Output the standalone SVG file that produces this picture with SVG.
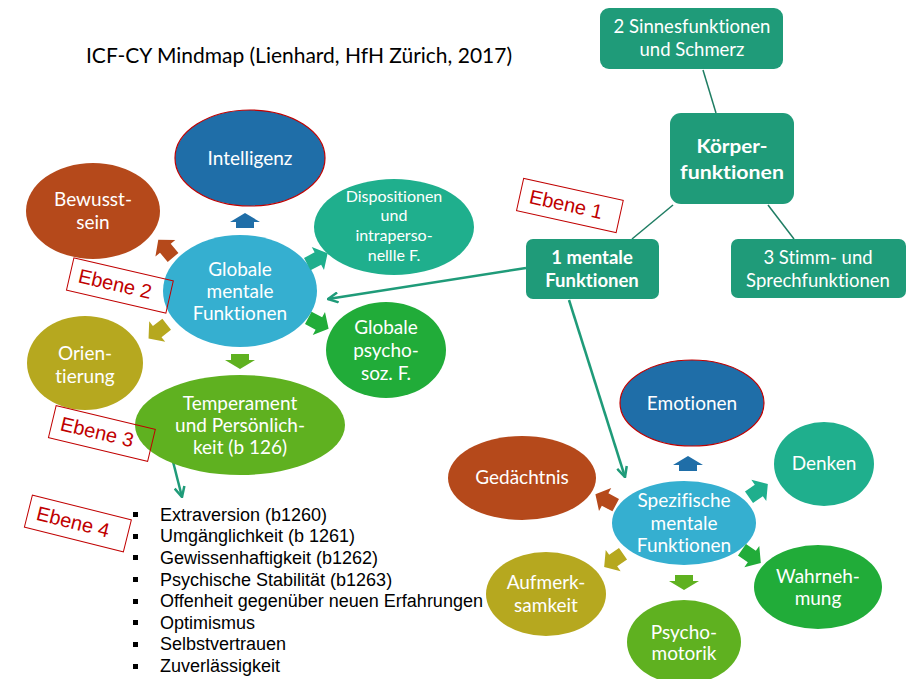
<svg xmlns="http://www.w3.org/2000/svg" xmlns:xlink="http://www.w3.org/1999/xlink" width="910" height="679" viewBox="0 0 910 679">
<defs>
<style>
text{font-variant-ligatures:none;font-feature-settings:"liga" 0,"clig" 0}
.t{font-family:Lato,"Open Sans",sans-serif;fill:#fff;text-anchor:middle;font-size:19px}
.s16{font-size:16px}
.bx{fill:#1f9b79}
.bt{font-family:Lato,"Open Sans",sans-serif;fill:#fff;text-anchor:middle;font-size:18.5px}
.bb{font-weight:bold}
.blue{fill:#1f6ea8;stroke:#c00000;stroke-width:1.2}
.brown{fill:#b5491b}
.teal{fill:#1faf8d}
.lb{fill:#35afd0}
.green{fill:#21ac39}
.olive{fill:#b6a81f}
.lg{fill:#5fb120}
.eb rect{fill:none;stroke:#c00000;stroke-width:1}
.eb text{font-family:"Liberation Sans",Arial,sans-serif;font-size:20px;fill:#c00000;text-anchor:middle}
.con{stroke:#1f9b79;stroke-width:2.5;fill:none}
.thin{stroke:#1f7d63;stroke-width:1.5;fill:none}
.li{font-family:"Liberation Sans",Arial,sans-serif;font-size:18px;fill:#000}
</style>
<path id="bu" d="M0,-8 L15,1 L9,1 L9,7 L-9,7 L-9,1 L-15,1 Z"/>
<path id="ba" d="M0,-12 L13,-1 L7,-1 L7,11 L-7,11 L-7,-1 L-13,-1 Z"/>
<marker id="ah" viewBox="0 0 12 12" refX="11" refY="6" markerWidth="12" markerHeight="12" markerUnits="userSpaceOnUse" orient="auto">
<path d="M1,1 L11,6 L1,11" fill="none" stroke="#1f9b79" stroke-width="2.5"/>
</marker>
</defs>
<rect width="910" height="679" fill="#fff"/>

<text x="86" y="63" font-family="Lato,'Open Sans',sans-serif" font-size="22" fill="#000" textLength="426" lengthAdjust="spacingAndGlyphs">ICF-CY Mindmap (Lienhard, HfH Zürich, 2017)</text>

<g id="connectors">
<line class="thin" x1="703" y1="70" x2="716" y2="113"/>
<line class="thin" x1="673" y1="205" x2="632" y2="239"/>
<line class="thin" x1="768" y1="205" x2="794" y2="239"/>
<line class="con" x1="526" y1="268" x2="328" y2="299" marker-end="url(#ah)"/>
<line class="con" x1="569" y1="300" x2="625" y2="477" marker-end="url(#ah)"/>
<line class="con" x1="166" y1="434" x2="182" y2="497" marker-end="url(#ah)"/>
</g>

<g id="sinnes"><rect class="bx" x="600" y="8" width="183" height="61" rx="9"/>
<text class="bt" x="692" y="33">2 Sinnesfunktionen</text><text class="bt" x="692" y="56">und Schmerz</text></g>
<g id="koerper"><rect class="bx" x="670" y="113" width="124" height="91" rx="11"/>
<text class="bt bb" x="732" y="153" font-size="24" textLength="71" lengthAdjust="spacingAndGlyphs">Körper-</text><text class="bt bb" x="732" y="179" font-size="24" textLength="104" lengthAdjust="spacingAndGlyphs">funktionen</text></g>
<g id="mentale"><rect class="bx" x="526" y="239" width="133" height="60" rx="7"/>
<text class="bt bb" x="592" y="264" font-size="19">1 mentale</text><text class="bt bb" x="592" y="287" font-size="19">Funktionen</text></g>
<g id="stimm"><rect class="bx" x="731" y="239" width="175" height="59" rx="7"/>
<text class="bt" x="818" y="264">3 Stimm- und</text><text class="bt" x="818" y="287">Sprechfunktionen</text></g>

<!-- left cluster -->
<g id="intelligenz"><ellipse class="blue" cx="250" cy="158" rx="75" ry="48"/><text class="t" x="250" y="165">Intelligenz</text></g>
<g id="bewusstsein"><ellipse class="brown" cx="93" cy="211" rx="67" ry="48"/><text class="t" x="93" y="206">Bewusst-</text><text class="t" x="93" y="229">sein</text></g>
<g id="dispositionen"><ellipse class="teal" cx="394" cy="227" rx="80" ry="48"/>
<text class="t s16" x="394" y="202">Dispositionen</text><text class="t s16" x="394" y="221">und</text><text class="t s16" x="394" y="241">intraperso-</text><text class="t s16" x="394" y="261">nellle  F.</text></g>
<g id="globale"><ellipse class="lb" cx="240" cy="291" rx="77" ry="56"/>
<text class="t" x="240" y="276">Globale</text><text class="t" x="240" y="298">mentale</text><text class="t" x="240" y="320">Funktionen</text></g>
<g id="psychosoz"><ellipse class="green" cx="386" cy="350" rx="60" ry="48"/>
<text class="t" x="386" y="334">Globale</text><text class="t" x="386" y="357">psycho-</text><text class="t" x="386" y="380">soz. F.</text></g>
<g id="orientierung"><ellipse class="olive" cx="85" cy="363" rx="58" ry="47"/>
<text class="t" x="85" y="360">Orien-</text><text class="t" x="85" y="383">tierung</text></g>
<g id="temperament"><ellipse class="lg" cx="240" cy="425" rx="105" ry="50"/>
<text class="t" x="240" y="410">Temperament</text><text class="t" x="240" y="432">und  Persönlich-</text><text class="t" x="240" y="454">keit (b 126)</text></g>

<g id="arrows-left">
<use href="#bu" fill="#1f6ea8" transform="translate(245,221)"/>
<use href="#ba" fill="#b5491b" transform="translate(166,249) rotate(-40)"/>
<use href="#ba" fill="#1faf8d" transform="translate(317,259) rotate(62)"/>
<use href="#ba" fill="#b6a81f" transform="translate(158,331) rotate(-128)"/>
<use href="#ba" fill="#21ac39" transform="translate(318,323) rotate(118)"/>
<use href="#bu" fill="#5fb120" transform="translate(240,361) rotate(180)"/>
</g>

<!-- right cluster -->
<g id="emotionen"><ellipse class="blue" cx="692" cy="403" rx="72" ry="43"/><text class="t" x="692" y="410">Emotionen</text></g>
<g id="denken"><ellipse class="teal" cx="824" cy="464" rx="50" ry="42"/><text class="t" x="824" y="470">Denken</text></g>
<g id="gedaechtnis"><ellipse class="brown" cx="522" cy="478" rx="74" ry="42"/><text class="t" x="522" y="484">Gedächtnis</text></g>
<g id="spezifische"><ellipse class="lb" cx="684" cy="523" rx="72" ry="42"/>
<text class="t" x="684" y="507">Spezifische</text><text class="t" x="684" y="530">mentale</text><text class="t" x="684" y="552">Funktionen</text></g>
<g id="aufmerksamkeit"><ellipse class="olive" cx="546" cy="594" rx="60" ry="42"/>
<text class="t" x="546" y="589">Aufmerk-</text><text class="t" x="546" y="612">samkeit</text></g>
<g id="wahrnehmung"><ellipse class="green" cx="818" cy="587" rx="64" ry="42"/>
<text class="t" x="818" y="583">Wahrneh-</text><text class="t" x="818" y="605">mung</text></g>
<g id="psychomotorik"><ellipse class="lg" cx="684" cy="642" rx="57" ry="42"/>
<text class="t" x="684" y="639">Psycho-</text><text class="t" x="684" y="660">motorik</text></g>

<g id="arrows-right">
<use href="#bu" fill="#1f6ea8" transform="translate(688,464)"/>
<use href="#ba" fill="#b5491b" transform="translate(606,500) rotate(-62)"/>
<use href="#ba" fill="#1faf8d" transform="translate(758,491) rotate(55)"/>
<use href="#ba" fill="#b6a81f" transform="translate(614,560) rotate(-125)"/>
<use href="#ba" fill="#21ac39" transform="translate(751,556) rotate(125)"/>
<use href="#bu" fill="#5fb120" transform="translate(684,582) rotate(180)"/>
</g>

<g id="ebenen">
<g class="eb" transform="translate(570,205) rotate(12.5)"><rect x="-51" y="-16" width="102" height="33"/><text x="-4" y="7">Ebene 1</text></g>
<g class="eb" transform="translate(120,285) rotate(13)"><rect x="-51" y="-16" width="102" height="33"/><text x="-5" y="7">Ebene 2</text></g>
<g class="eb" transform="translate(102,433) rotate(13.5)"><rect x="-51" y="-16" width="102" height="33"/><text x="-5" y="7">Ebene 3</text></g>
<g class="eb" transform="translate(78,523) rotate(14)"><rect x="-51" y="-16" width="102" height="33"/><text x="-5" y="7">Ebene 4</text></g>
</g>

<g id="liste">
<g fill="#000">
<rect x="133" y="512" width="5" height="5"/><rect x="133" y="534" width="5" height="5"/><rect x="133" y="555" width="5" height="5"/><rect x="133" y="577" width="5" height="5"/>
<rect x="133" y="599" width="5" height="5"/><rect x="133" y="620" width="5" height="5"/><rect x="133" y="642" width="5" height="5"/><rect x="133" y="664" width="5" height="5"/>
</g>
<text class="li" x="160" y="521">Extraversion (b1260)</text>
<text class="li" x="160" y="542">Umgänglichkeit (b 1261)</text>
<text class="li" x="160" y="564">Gewissenhaftigkeit (b1262)</text>
<text class="li" x="160" y="586">Psychische Stabilität (b1263)</text>
<text class="li" x="160" y="607">Offenheit gegenüber neuen Erfahrungen</text>
<text class="li" x="160" y="629">Optimismus</text>
<text class="li" x="160" y="650">Selbstvertrauen</text>
<text class="li" x="160" y="672">Zuverlässigkeit</text>
</g>
</svg>
